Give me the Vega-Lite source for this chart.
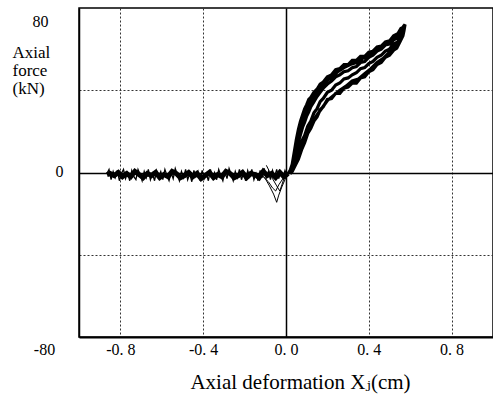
{
  "$schema": "https://vega.github.io/schema/vega-lite/v6.json",
  "width": 414,
  "height": 329,
  "autosize": {"type": "none"},
  "padding": {"left": 79, "top": 8, "right": 0, "bottom": 64},
  "background": "white",
  "view": {"stroke": "black", "strokeWidth": 1.5},
  "config": {
    "font": "'Liberation Serif', 'Times New Roman', 'DejaVu Serif', serif",
    "axis": {"labelFont": "'Liberation Serif', 'Times New Roman', 'DejaVu Serif', serif", "titleFont": "'Liberation Serif', 'Times New Roman', 'DejaVu Serif', serif", "labelColor": "black", "titleColor": "black", "titleFontWeight": "normal"}
  },
  "datasets": {
    "flat": [
      {"x":0.01,"y":-0.5},{"x":-0.01,"y":-2},{"x":-0.03,"y":0},{"x":-0.05,"y":-2.5},{"x":-0.07,"y":-0.5},{"x":-0.09,"y":-1.5},{"x":-0.11,"y":0.5},{"x":-0.13,"y":-2.5},{"x":-0.15,"y":-1},{"x":-0.17,"y":-0.5},{"x":-0.19,"y":-2.5},{"x":-0.21,"y":0},{"x":-0.23,"y":-1.5},{"x":-0.25,"y":-2.5},{"x":-0.27,"y":-0.5},{"x":-0.29,"y":0.5},{"x":-0.31,"y":-2},{"x":-0.33,"y":-1},{"x":-0.35,"y":-2.5},{"x":-0.37,"y":0},{"x":-0.39,"y":-1.5},{"x":-0.41,"y":-3},{"x":-0.43,"y":-0.5},{"x":-0.45,"y":-2},{"x":-0.47,"y":0},{"x":-0.49,"y":-1.5},{"x":-0.51,"y":-2.5},{"x":-0.53,"y":-0.5},{"x":-0.55,"y":0.5},{"x":-0.57,"y":-2},{"x":-0.59,"y":-1},{"x":-0.61,"y":-2.5},{"x":-0.63,"y":0},{"x":-0.65,"y":-1.5},{"x":-0.67,"y":-0.5},{"x":-0.69,"y":-2.5},{"x":-0.71,"y":-1},{"x":-0.73,"y":0.5},{"x":-0.75,"y":-2},{"x":-0.77,"y":-0.5},{"x":-0.79,"y":-2},{"x":-0.81,"y":0},{"x":-0.83,"y":-1.5},{"x":-0.85,"y":-0.5},{"x":-0.865,"y":-1}
    ],
    "fuzz": [
      {"x":-0.865,"y":-0.5},{"x":-0.855,"y":1.5},{"x":-0.845,"y":-3.5},{"x":-0.835,"y":0.5},{"x":-0.825,"y":-2.5},{"x":-0.815,"y":1},{"x":-0.805,"y":-4},{"x":-0.795,"y":-0.5},{"x":-0.785,"y":1.5},{"x":-0.775,"y":-3},{"x":-0.765,"y":0},{"x":-0.755,"y":-4},{"x":-0.745,"y":1},{"x":-0.735,"y":-2},{"x":-0.725,"y":-3.5},{"x":-0.715,"y":1.5},{"x":-0.705,"y":-1},{"x":-0.695,"y":-4},{"x":-0.685,"y":0.5},{"x":-0.675,"y":-2.5},{"x":-0.665,"y":1.5},{"x":-0.655,"y":-3.5},{"x":-0.645,"y":-0.5},{"x":-0.635,"y":-4},{"x":-0.625,"y":1},{"x":-0.615,"y":-2},{"x":-0.605,"y":0.5},{"x":-0.595,"y":-3.5},{"x":-0.585,"y":1.5},{"x":-0.575,"y":-1.5},{"x":-0.565,"y":-4},{"x":-0.555,"y":0},{"x":-0.545,"y":-3},{"x":-0.535,"y":2},{"x":-0.525,"y":-1},{"x":-0.515,"y":-4},{"x":-0.505,"y":0.5},{"x":-0.495,"y":-2.5},{"x":-0.485,"y":1.5},{"x":-0.475,"y":-3.5},{"x":-0.465,"y":-0.5},{"x":-0.455,"y":-4.5},{"x":-0.445,"y":1},{"x":-0.435,"y":-2},{"x":-0.425,"y":0.5},{"x":-0.415,"y":-4},{"x":-0.405,"y":1},{"x":-0.395,"y":-3},{"x":-0.385,"y":-0.5},{"x":-0.375,"y":-4},{"x":-0.365,"y":1.5},{"x":-0.355,"y":-2.5},{"x":-0.345,"y":0},{"x":-0.335,"y":-3.5},{"x":-0.325,"y":1.5},{"x":-0.315,"y":-1.5},{"x":-0.305,"y":-4},{"x":-0.295,"y":0.5},{"x":-0.285,"y":-3},{"x":-0.275,"y":2},{"x":-0.265,"y":-1},{"x":-0.255,"y":-4},{"x":-0.245,"y":0.5},{"x":-0.235,"y":-2.5},{"x":-0.225,"y":1.5},{"x":-0.215,"y":-3.5},{"x":-0.205,"y":0},{"x":-0.195,"y":-4},{"x":-0.185,"y":1},{"x":-0.175,"y":-2},{"x":-0.165,"y":1.5},{"x":-0.155,"y":-3.5},{"x":-0.145,"y":-0.5},{"x":-0.135,"y":-4},{"x":-0.125,"y":1},{"x":-0.115,"y":-2.5},{"x":-0.105,"y":2},{"x":-0.095,"y":-3},{"x":-0.085,"y":0.5},{"x":-0.075,"y":-3.5},{"x":-0.065,"y":1},{"x":-0.055,"y":-2},{"x":-0.045,"y":1.5},{"x":-0.035,"y":-3},{"x":-0.025,"y":0.5},{"x":-0.015,"y":-2.5},{"x":-0.005,"y":1},{"x":0.005,"y":-1.5},{"x":0.015,"y":0.5}
    ],
    "main": [
      {"x":0.01,"y":-0.5},{"x":0.02,"y":1},{"x":0.03,"y":4},{"x":0.04,"y":10},{"x":0.05,"y":16},{"x":0.06,"y":21},{"x":0.07,"y":25},{"x":0.08,"y":28},{"x":0.09,"y":31},{"x":0.10,"y":33},{"x":0.11,"y":35.5},{"x":0.12,"y":36.5},{"x":0.135,"y":39},{"x":0.15,"y":40.5},{"x":0.165,"y":43},{"x":0.18,"y":44},{"x":0.20,"y":46.5},{"x":0.22,"y":47.5},{"x":0.24,"y":50},{"x":0.26,"y":50.5},{"x":0.28,"y":52.5},{"x":0.30,"y":52.5},{"x":0.32,"y":54.5},{"x":0.34,"y":54.5},{"x":0.36,"y":56.5},{"x":0.38,"y":56.5},{"x":0.40,"y":58.5},{"x":0.42,"y":59},{"x":0.44,"y":61},{"x":0.46,"y":61.5},{"x":0.48,"y":63.5},{"x":0.50,"y":64},{"x":0.52,"y":66.5},{"x":0.54,"y":67.5},{"x":0.555,"y":70},{"x":0.565,"y":70.5},{"x":0.575,"y":72},
      {"x":0.57,"y":69},{"x":0.565,"y":66.5},{"x":0.55,"y":63.5},{"x":0.535,"y":60.5},{"x":0.52,"y":59.5},{"x":0.50,"y":57},{"x":0.48,"y":56},{"x":0.46,"y":53.5},{"x":0.44,"y":52.5},{"x":0.42,"y":50},{"x":0.40,"y":49},{"x":0.38,"y":46.5},{"x":0.36,"y":46},{"x":0.34,"y":43.5},{"x":0.32,"y":43.5},{"x":0.30,"y":41.5},{"x":0.28,"y":41},{"x":0.26,"y":38.5},{"x":0.24,"y":38.5},{"x":0.22,"y":36},{"x":0.20,"y":35.5},{"x":0.18,"y":32},{"x":0.165,"y":30.5},{"x":0.15,"y":27},{"x":0.135,"y":25},{"x":0.12,"y":21.5},{"x":0.105,"y":19},{"x":0.09,"y":14.5},{"x":0.075,"y":11},{"x":0.06,"y":6.5},{"x":0.045,"y":3.5},{"x":0.03,"y":0.5},{"x":0.02,"y":-0.5},
      {"x":0.03,"y":2.5},{"x":0.04,"y":7},{"x":0.05,"y":11},{"x":0.06,"y":15},{"x":0.07,"y":18.5},{"x":0.08,"y":22},{"x":0.09,"y":24.5},{"x":0.10,"y":27.5},{"x":0.11,"y":29.5},{"x":0.12,"y":32},{"x":0.135,"y":34.5},{"x":0.15,"y":37},{"x":0.165,"y":39},{"x":0.18,"y":41},{"x":0.20,"y":43},{"x":0.22,"y":44.5},{"x":0.24,"y":46.5},{"x":0.26,"y":47.5},{"x":0.28,"y":49},{"x":0.30,"y":49.5},{"x":0.32,"y":51},{"x":0.34,"y":51.5},{"x":0.36,"y":53.5},{"x":0.38,"y":54},{"x":0.40,"y":56},{"x":0.42,"y":57},{"x":0.44,"y":59},{"x":0.46,"y":60},{"x":0.48,"y":62},{"x":0.50,"y":62.5},{"x":0.52,"y":64.5},{"x":0.54,"y":65.5},{"x":0.555,"y":68},{"x":0.57,"y":71},
      {"x":0.565,"y":68},{"x":0.555,"y":66},{"x":0.54,"y":63.5},{"x":0.52,"y":62.5},{"x":0.50,"y":60},{"x":0.48,"y":59},{"x":0.46,"y":57},{"x":0.44,"y":56},{"x":0.42,"y":54},{"x":0.40,"y":53},{"x":0.38,"y":51},{"x":0.36,"y":50.5},{"x":0.34,"y":48.5},{"x":0.32,"y":47.5},{"x":0.30,"y":46},{"x":0.28,"y":45.5},{"x":0.26,"y":43.5},{"x":0.24,"y":42.5},{"x":0.22,"y":40},{"x":0.20,"y":39},{"x":0.18,"y":36},{"x":0.165,"y":34.5},{"x":0.15,"y":31},{"x":0.135,"y":29},{"x":0.12,"y":25},{"x":0.105,"y":22.5},{"x":0.09,"y":18},{"x":0.075,"y":15},{"x":0.06,"y":10},{"x":0.045,"y":6.5},{"x":0.03,"y":2},{"x":0.02,"y":0},
      {"x":0.03,"y":3},{"x":0.04,"y":8.5},{"x":0.05,"y":13.5},{"x":0.06,"y":18},{"x":0.07,"y":21.5},{"x":0.08,"y":25},{"x":0.09,"y":27.5},{"x":0.10,"y":30.5},{"x":0.11,"y":32},{"x":0.125,"y":35},{"x":0.14,"y":37.5},{"x":0.16,"y":40.5},{"x":0.18,"y":43},{"x":0.20,"y":45},{"x":0.22,"y":46.5},{"x":0.25,"y":49},{"x":0.28,"y":51},{"x":0.31,"y":52.5},{"x":0.34,"y":53.5},{"x":0.37,"y":55.5},{"x":0.40,"y":57},{"x":0.43,"y":59.5},{"x":0.46,"y":61.5},{"x":0.49,"y":63},{"x":0.52,"y":65.5},{"x":0.55,"y":68},{"x":0.57,"y":71.5},
      {"x":0.565,"y":67.5},{"x":0.55,"y":64.5},{"x":0.53,"y":61.5},{"x":0.50,"y":58.5},{"x":0.47,"y":55.5},{"x":0.44,"y":53.5},{"x":0.41,"y":50.5},{"x":0.38,"y":48},{"x":0.35,"y":45.5},{"x":0.32,"y":44.5},{"x":0.29,"y":42},{"x":0.26,"y":40},{"x":0.23,"y":37.5},{"x":0.20,"y":35},{"x":0.175,"y":31.5},{"x":0.15,"y":28},{"x":0.125,"y":23.5},{"x":0.10,"y":18},{"x":0.08,"y":13},{"x":0.06,"y":8},{"x":0.04,"y":3},{"x":0.02,"y":0}
    ],
    "thin": [
      {"s":"a","x":-0.12,"y":-1},{"s":"a","x":-0.10,"y":-3},{"s":"a","x":-0.08,"y":-6.5},{"s":"a","x":-0.06,"y":-10.5},{"s":"a","x":-0.045,"y":-14.5},{"s":"a","x":-0.035,"y":-11},{"s":"a","x":-0.02,"y":-7},{"s":"a","x":-0.005,"y":-3.5},{"s":"a","x":0.01,"y":-1},
      {"s":"b","x":-0.095,"y":3.5},{"s":"b","x":-0.08,"y":0.5},{"s":"b","x":-0.065,"y":-3},{"s":"b","x":-0.045,"y":-6.5},{"s":"b","x":-0.03,"y":-9},{"s":"b","x":-0.02,"y":-6},{"s":"b","x":-0.01,"y":-3},{"s":"b","x":0.005,"y":-0.5},
      {"s":"c","x":-0.14,"y":-0.5},{"s":"c","x":-0.11,"y":-2},{"s":"c","x":-0.085,"y":-4.5},{"s":"c","x":-0.065,"y":-7.5},{"s":"c","x":-0.05,"y":-9},{"s":"c","x":-0.035,"y":-6},{"s":"c","x":-0.015,"y":-3},{"s":"c","x":0.0,"y":-1}
    ]
  },
  "layer": [
    {
      "data": {"name": "flat"},
      "mark": {"type": "line", "color": "black", "strokeWidth": 5},
      "encoding": {
        "x": {
          "field": "x", "type": "quantitative",
          "scale": {"domain": [-1, 1], "nice": false, "zero": false},
          "axis": {
            "values": [-0.8, -0.4, 0, 0.4, 0.8],
            "labelExpr": "datum.value == 0 ? '0. 0' : (datum.value < 0 ? '-' : '') + '0. ' + round(abs(datum.value) * 10)",
            "labelFontSize": 16,
            "labelPadding": 4,
            "labelBaseline": "top",
            "ticks": false,
            "tickSize": 0,
            "domainColor": "black",
            "domainWidth": 2,
            "grid": true,
            "gridColor": {"condition": {"test": "datum.value == 0", "value": "black"}, "value": "#333333"},
            "gridDash": {"condition": {"test": "datum.value == 0", "value": []}, "value": [2, 2]},
            "gridWidth": {"condition": {"test": "datum.value == 0", "value": 1.5}, "value": 1},
            "gridOpacity": 1,
            "title": "Axial deformation X\u2c7c(cm)",
            "titleFontSize": 21,
            "titleAlign": "center",
            "titleBaseline": "alphabetic",
            "titleX": 221,
            "titleY": 51
          }
        },
        "y": {
          "field": "y", "type": "quantitative",
          "scale": {"domain": [-80, 80], "nice": false, "zero": false},
          "axis": {
            "values": [-80, -40, 0, 40, 80],
            "labelExpr": "datum.value == 80 ? '80' : datum.value == 0 ? '0' : datum.value == -80 ? '-80' : ''",
            "labelFontSize": 16,
            "labelAlign": "center",
            "labelBaseline": "middle",
            "labelPadding": {"condition": [{"test": "datum.value == 80", "value": 39}, {"test": "datum.value == 0", "value": 20}], "value": 35},
            "labelOffset": {"condition": [{"test": "datum.value == 80", "value": 13}, {"test": "datum.value == -80", "value": 12}], "value": -1},
            "ticks": false,
            "tickSize": 0,
            "domainColor": "black",
            "domainWidth": 1.5,
            "grid": true,
            "gridColor": {"condition": {"test": "datum.value == 0", "value": "black"}, "value": "#333333"},
            "gridDash": {"condition": {"test": "datum.value == 0", "value": []}, "value": [2, 2]},
            "gridWidth": {"condition": {"test": "datum.value == 0", "value": 1.5}, "value": 1},
            "gridOpacity": {"condition": {"test": "abs(datum.value) == 80", "value": 0}, "value": 1},
            "title": ["Axial", "force", "(kN)"],
            "titleFontSize": 17,
            "titleAngle": 0,
            "titleAlign": "left",
            "titleBaseline": "alphabetic",
            "titleLineHeight": 18,
            "titleX": -67,
            "titleY": 49
          }
        },
        "order": {"value": null}
      }
    },
    {
      "data": {"name": "fuzz"},
      "mark": {"type": "line", "color": "black", "strokeWidth": 1.3},
      "encoding": {
        "x": {"field": "x", "type": "quantitative"},
        "y": {"field": "y", "type": "quantitative"},
        "order": {"value": null}
      }
    },
    {
      "data": {"name": "main"},
      "mark": {"type": "line", "color": "black", "strokeWidth": 3.2, "strokeJoin": "miter"},
      "encoding": {
        "x": {"field": "x", "type": "quantitative"},
        "y": {"field": "y", "type": "quantitative"},
        "order": {"value": null}
      }
    },
    {
      "data": {"name": "thin"},
      "mark": {"type": "line", "color": "black", "strokeWidth": 1},
      "encoding": {
        "x": {"field": "x", "type": "quantitative"},
        "y": {"field": "y", "type": "quantitative"},
        "detail": {"field": "s", "type": "nominal"},
        "order": {"value": null}
      }
    }
  ]
}
